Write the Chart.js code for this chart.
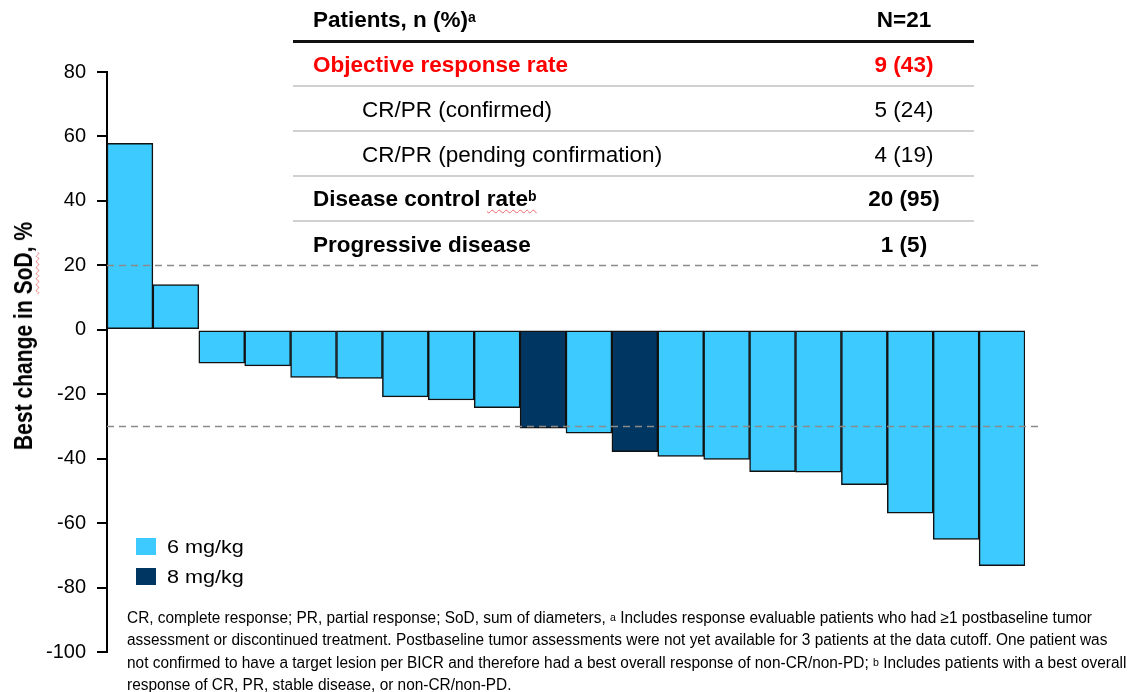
<!DOCTYPE html>
<html><head><meta charset="utf-8">
<script src="https://cdn.jsdelivr.net/npm/chart.js@4.4.1/dist/chart.umd.min.js"></script>
<style>
html,body{margin:0;padding:0;background:#fff;}
#wrap{position:relative;width:1130px;height:692px;overflow:hidden;font-family:'Liberation Sans',Arial,sans-serif;color:#000;}
#c{position:absolute;left:0;top:0;}
.t{position:absolute;white-space:nowrap;line-height:26px;height:26px;font-size:22.5px;}
.b{font-weight:bold;}
.red{color:#ff0000;}
.val{width:120px;text-align:center;left:844px;}
sup{font-size:14px;vertical-align:top;position:relative;top:-3px;}
.hl{position:absolute;left:293px;width:681px;}
.wavy{text-decoration:underline wavy #f06a6a;text-decoration-thickness:1px;text-underline-offset:3px;}
#ytitle{position:absolute;left:22.5px;top:336px;transform:translate(-50%,-50%) rotate(-90deg) scaleX(0.81);white-space:nowrap;font-weight:bold;font-size:26px;line-height:1;}
.lg{position:absolute;left:136px;width:20px;height:17px;}
.lgt{position:absolute;left:167px;white-space:nowrap;font-size:18px;line-height:20px;transform:scaleX(1.2);transform-origin:left center;}
#foot{position:absolute;left:127px;top:606.5px;font-size:16px;line-height:22.5px;white-space:nowrap;transform-origin:left top;}
#foot span{display:block;}
#foot sup{font-size:11px;top:-1px;}
</style></head>
<body><div id="wrap">
<canvas id="c" width="1130" height="692"></canvas>
<div id="ytitle">Best change in <span class="wavy">SoD</span>, %</div>
<div id="table"></div>
<div id="legend"></div>
<div id="foot"><span id="fl1" style="display:inline-block">CR, complete response; PR, partial response; SoD, sum of diameters, <sup>a</sup> Includes response evaluable patients who had ≥1 postbaseline tumor</span>
<span>assessment or discontinued treatment. Postbaseline tumor assessments were not yet available for 3 patients at the data cutoff. One patient was</span>
<span>not confirmed to have a target lesion per BICR and therefore had a best overall response of non-CR/non-PD; <sup>b</sup> Includes patients with a best overall</span>
<span>response of CR, PR, stable disease, or non-CR/non-PD.</span></div>
</div>
<script>
// ---- data ----
const patients = ['P1','P2','P3','P4','P5','P6','P7','P8','P9','P10','P11','P12','P13','P14','P15','P16','P17','P18','P19','P20'];
const bestChange = [57.9, 14.0, -10.4, -11.2, -14.8, -15.1, -20.8, -21.8, -24.2, -30.5, -32.1, -37.8, -39.3, -40.2, -44.0, -44.2, -48.1, -56.9, -65.1, -73.2];
const doseGroup = [0,0,0,0,0,0,0,0,0,1,0,1,0,0,0,0,0,0,0,0];
const doseLabels = ['6 mg/kg','8 mg/kg'];
const thresholds = [20, -30];
const yMin = -100, yMax = 80, yStep = 20;
const tableHeader = ['Patients, n (%)', 'N=21'];
const tableLabels = ['Objective response rate','CR/PR (confirmed)','CR/PR (pending confirmation)','Disease control rate','Progressive disease'];
const tableValues = ['9 (43)','5 (24)','4 (19)','20 (95)','1 (5)'];

// ---- styles ----
const doseColors = ['#3dcbff','#003662'];

// footnote condensed like Arial Narrow
(function(){
  const fl = document.getElementById('fl1');
  const w = fl.getBoundingClientRect().width;
  document.getElementById('foot').style.transform = 'scaleX(' + (965 / w) + ')';
})();

// table + legend
(function(){
  const rowCenters = [65,110,155,199,245];
  const rowCls = ['b red','','','b','b'];
  const rowX = [313,362,362,313,313];
  let h = '';
  h += `<div class="t b" style="left:313px;top:${20-13}px">${tableHeader[0]}<sup>a</sup></div>`;
  h += `<div class="t b val" style="top:${20-13}px">${tableHeader[1]}</div>`;
  h += `<div class="hl" style="top:40px;height:3px;background:#111"></div>`;
  [86,131,176,221].forEach(y=>{ h += `<div class="hl" style="top:${y-1}px;height:2px;background:#d0d0d0"></div>`; });
  tableLabels.forEach((lab,i)=>{
    let txt = lab;
    if(i===3){ txt = 'Disease control <span class="wavy">rate<sup>b</sup></span>'; }
    h += `<div class="t ${rowCls[i]}" style="left:${rowX[i]}px;top:${rowCenters[i]-13}px">${txt}</div>`;
    h += `<div class="t val ${rowCls[i]}" style="top:${rowCenters[i]-13}px">${tableValues[i]}</div>`;
  });
  document.getElementById('table').innerHTML = h;
  let lg = '';
  const lgY = [538,568];
  doseLabels.forEach((d,i)=>{
    lg += `<div class="lg" style="top:${lgY[i]}px;background:${doseColors[i]}"></div>`;
    lg += `<div class="lgt" style="top:${lgY[i]-1}px">${d}</div>`;
  });
  document.getElementById('legend').innerHTML = lg;
})();

const refLines = {
  id:'refLines',
  afterDatasetsDraw(chart){
    const {ctx, chartArea:a, scales:{y}} = chart;
    ctx.save();
    ctx.strokeStyle = '#8a8a8a';
    ctx.lineWidth = 1.5;
    ctx.setLineDash([7,5]);
    thresholds.forEach(v=>{
      const py = Math.round(y.getPixelForValue(v)) + 0.5;
      ctx.beginPath(); ctx.moveTo(a.left, py); ctx.lineTo(a.right + 13, py); ctx.stroke();
    });
    ctx.restore();
  }
};

new Chart(document.getElementById('c'), {
  type:'bar',
  data:{
    labels: patients,
    datasets:[{
      label:'Best change in SoD',
      data: bestChange,
      backgroundColor: doseGroup.map(g=>doseColors[g]),
      borderColor:'#111',
      borderWidth:1.5,
      borderSkipped:false,
      barPercentage:1,
      categoryPercentage:1
    }]
  },
  options:{
    responsive:false,
    animation:false,
    devicePixelRatio:1,
    layout:{padding:{top:72,bottom:40,left:0,right:105}},
    plugins:{legend:{display:false},tooltip:{enabled:false}},
    scales:{
      x:{display:false},
      y:{
        min:yMin, max:yMax,
        ticks:{stepSize:yStep, color:'#000', font:{family:'Liberation Sans', size:20}, padding:11},
        grid:{drawOnChartArea:false, drawTicks:true, tickLength:10, color:'#000', lineWidth:2},
        border:{color:'#000', width:2},
        afterFit(s){ s.width = 107; }
      }
    }
  },
  plugins:[refLines]
});
</script>
</body></html>
